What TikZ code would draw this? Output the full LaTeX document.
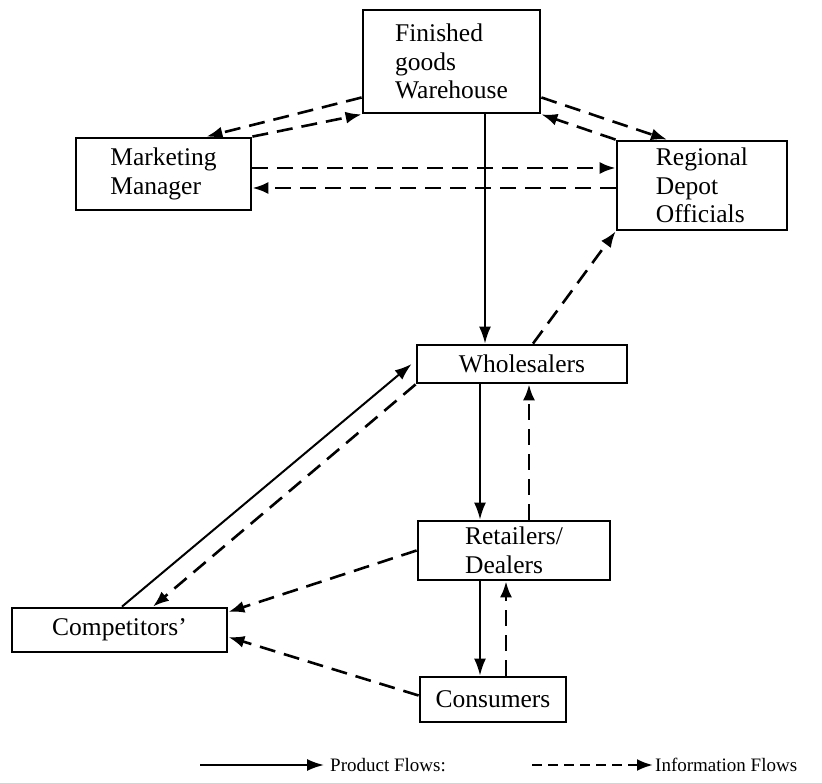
\documentclass[tikz,border=0pt]{standalone}
\usepackage{fontspec}
\setmainfont{Liberation Serif}
\usetikzlibrary{arrows.meta}

\tikzset{
    unit/.style={draw, line width=2.8pt, align=left, inner sep=2pt,
        font=\fontsize{25.5pt}{28.5pt}\selectfont},
    product/.style={line width=2pt, -{Latex[length=17pt,width=12pt]}},
    info/.style={line width=2.6pt, dash pattern=on 16pt off 9pt,
        -{Latex[length=16pt,width=12pt]}},
    legend/.style={anchor=west, inner sep=0pt, font=\fontsize{19pt}{23pt}\selectfont},
}

\begin{document}
\begin{tikzpicture}[x=1pt, y=-1pt]
    \useasboundingbox (0,0) rectangle (822,783);

    % boxes
    \node[unit, minimum width=177pt, minimum height=103pt] (wh) at (451.5,61.5) {Finished\\goods\\Warehouse};
    \node[unit, minimum width=175pt, minimum height=72pt] (mm) at (163.5,174) {Marketing\\Manager};
    \node[unit, minimum width=170pt, minimum height=89pt] (rdo) at (702,185.5) {Regional\\Depot\\Officials};
    \node[unit, minimum width=210pt, minimum height=38pt] (whs) at (522,364) {Wholesalers};
    \node[unit, minimum width=192pt, minimum height=59pt] (ret) at (514,550.5) {Retailers/\\Dealers};
    \node[unit, minimum width=215pt, minimum height=44pt] (comp) at (119.5,630) {Competitors'};
    \node[unit, minimum width=146pt, minimum height=45pt] (cons) at (493,699.5) {Consumers};

    % product flows
    \draw[product] ([xshift=33.5pt]wh.south) -- ([xshift=33.5pt]wh.south |- whs.north);
    \draw[product] ([xshift=-42pt]whs.south) -- ([xshift=-42pt]whs.south |- ret.north);
    \draw[product] ([xshift=-34pt]ret.south) -- ([xshift=-34pt]ret.south |- cons.north);
    \draw[product] ([xshift=2.5pt]comp.north) -- ([xshift=-4pt]whs.west);

    % information flows
    \draw[info] ([yshift=-36pt]wh.west) -- ([xshift=43pt]mm.north);
    \draw[info] (mm.north east) -- (wh.south west);
    \draw[info] ([yshift=-36pt]wh.east) -- ([xshift=-35pt]rdo.north);
    \draw[info] (rdo.north west) -- (wh.south east);
    \draw[info] ([yshift=6pt]mm.east) -- ([yshift=6pt]mm.east -| rdo.west);
    \draw[info] ([yshift=-2.5pt]rdo.west) -- ([yshift=-2.5pt]rdo.west -| mm.east);
    \draw[info] ([xshift=11pt]whs.north) -- (rdo.south west);
    \draw[info] ([xshift=15pt]ret.north) -- ([xshift=15pt]ret.north |- whs.south);
    \draw[info] ([xshift=13pt]cons.north) -- ([xshift=13pt]cons.north |- ret.south);
    \draw[info] (whs.south west) -- ([xshift=33.5pt]comp.north);
    \draw[info] (ret.west) -- ([yshift=18pt]comp.east);
    \draw[info] ([yshift=4pt]cons.west) -- ([yshift=-7pt]comp.east);

    % legend
    \coordinate (pstart) at (200,765);
    \node[legend] (pflow) at (330,765) {Product Flows:};
    \coordinate (istart) at (532,765);
    \node[legend] (iflow) at (655,765) {Information Flows};
    \draw[product] (pstart) -- ([xshift=-6pt]pflow.west);
    \draw[info, dash pattern=on 10pt off 6pt] (istart) -- ([xshift=-2pt]iflow.west);
\end{tikzpicture}
\end{document}
